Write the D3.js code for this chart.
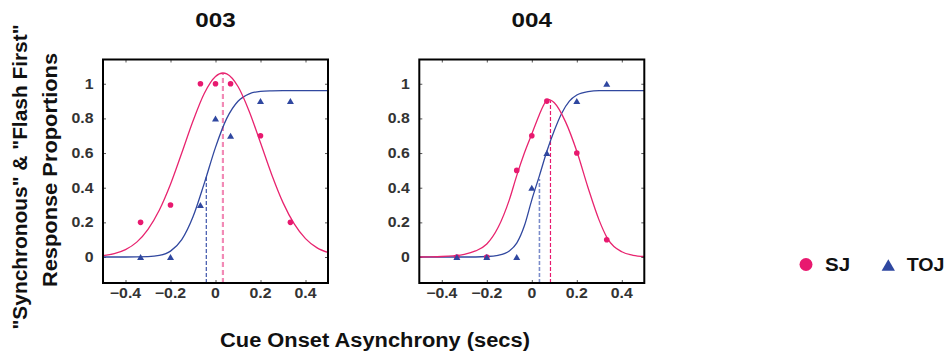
<!DOCTYPE html>
<html>
<head>
<meta charset="utf-8">
<script src="https://cdn.jsdelivr.net/npm/d3@7"></script>
<style>
  html, body { margin: 0; padding: 0; background: #fff; }
  svg { display: block; }
  text { font-family: "Liberation Sans", Arial, Helvetica, sans-serif; font-weight: bold; }
</style>
</head>
<body>
<svg id="chart" width="947" height="353"></svg>
<script>
// ---------- data ----------
const panelTitles = ["003", "004"];
const cueX = [-0.333, -0.2, -0.067, 0, 0.067, 0.2, 0.333];
const sj003 = [0.2, 0.3, 1, 1, 1, 0.7, 0.2];
const toj003 = [0, 0, 0.3, 0.8, 0.7, 0.9, 0.9];
const sj004 = [0, 0, 0.5, 0.7, 0.9, 0.6, 0.1];
const toj004 = [0, 0, 0, 0.4, 0.6, 0.9, 1.0];

// fitted curves
const fitSj003X = [-0.5, -0.45, -0.4, -0.35, -0.3, -0.25, -0.2, -0.15, -0.1, -0.05, 0, 0.033, 0.05, 0.1, 0.15, 0.2, 0.25, 0.3, 0.35, 0.4, 0.45, 0.5];
const fitSj003Y = [0.008, 0.02, 0.043, 0.086, 0.16, 0.27, 0.42, 0.60, 0.785, 0.944, 1.042, 1.062, 1.057, 0.984, 0.84, 0.659, 0.475, 0.314, 0.191, 0.106, 0.054, 0.026];
const fitToj003X = [-0.5, -0.4, -0.3, -0.25, -0.2, -0.15, -0.1, -0.05, 0, 0.05, 0.1, 0.15, 0.2, 0.25, 0.3, 0.4, 0.5];
const fitToj003Y = [0, 0, 0.002, 0.009, 0.034, 0.10, 0.232, 0.425, 0.633, 0.80, 0.899, 0.942, 0.956, 0.959, 0.96, 0.96, 0.96];
const fitSj004X = [-0.5, -0.45, -0.4, -0.35, -0.3, -0.25, -0.2, -0.15, -0.1, -0.067, -0.033, 0, 0.033, 0.05, 0.072, 0.1, 0.15, 0.2, 0.25, 0.3, 0.333, 0.4, 0.45, 0.5];
const fitSj004Y = [0, 0.001, 0.003, 0.007, 0.015, 0.035, 0.075, 0.17, 0.33, 0.47, 0.60, 0.71, 0.82, 0.87, 0.91, 0.89, 0.78, 0.61, 0.40, 0.21, 0.115, 0.03, 0.01, 0.003];
const fitToj004X = [-0.5, -0.3, -0.2, -0.15, -0.1, -0.067, -0.033, 0, 0.034, 0.067, 0.1, 0.133, 0.167, 0.2, 0.25, 0.3, 0.4, 0.5];
const fitToj004Y = [0, 0, 0.003, 0.01, 0.035, 0.08, 0.18, 0.33, 0.47, 0.61, 0.73, 0.83, 0.90, 0.935, 0.955, 0.96, 0.96, 0.96];

// point-of-subjective-simultaneity markers [SJ, TOJ]
const pseX003 = [0.033, -0.041];
const pseTop003 = [1.062, 0.463];
const pseX004 = [0.083, 0.034];
const pseTop004 = [0.905, 0.45];

const xTicks = [-0.4, -0.2, 0, 0.2, 0.4];
const yTicks = [0, 0.2, 0.4, 0.6, 0.8, 1];
const xDomain = [-0.5, 0.5];
const yDomain = [-0.15, 1.14];
const legendLabels = ["SJ", "TOJ"];
const yLabelLines = ['"Synchronous" & "Flash First"', "Response Proportions"];
const xLabel = "Cue Onset Asynchrony (secs)";

// ---------- styles ----------
const PINK = "#e8196f";
const BLUE = "#2f47a0";
const PINK_LINE = "#e8246f";
const BLUE_LINE = "#31489f";

const svg = d3.select("#chart");

function stretch(sel, f) {
  sel.each(function () {
    const w = this.getComputedTextLength();
    this.setAttribute("textLength", w * f);
    this.setAttribute("lengthAdjust", "spacingAndGlyphs");
  });
}

function triPath(cx, cy, w, h) {
  return `M${cx},${cy - h / 2}L${cx + w / 2},${cy + h / 2}L${cx - w / 2},${cy + h / 2}Z`;
}

const panels = [
  { title: panelTitles[0], left: 103, sj: sj003, toj: toj003,
    fsx: fitSj003X, fsy: fitSj003Y, ftx: fitToj003X, fty: fitToj003Y,
    pX: pseX003, pTop: pseTop003,
    dashSj: { color: "#f28ab6", width: 2.2, dash: "5,3" },
    dashToj: { color: "#2b44a3", width: 1.1, dash: "4,2" } },
  { title: panelTitles[1], left: 419.3, sj: sj004, toj: toj004,
    fsx: fitSj004X, fsy: fitSj004Y, ftx: fitToj004X, fty: fitToj004Y,
    pX: pseX004, pTop: pseTop004,
    dashSj: { color: "#e8196f", width: 1.2, dash: "4,2" },
    dashToj: { color: "#7c8dca", width: 1.6, dash: "4,2" } }
];

const W = 225, TOP = 59.5, BOTTOM = 283;

panels.forEach((p, i) => {
  const x = d3.scaleLinear().domain(xDomain).range([p.left, p.left + W]);
  const y = d3.scaleLinear().domain(yDomain).range([BOTTOM, TOP]);
  const g = svg.append("g");

  const clipId = "clip" + i;
  svg.append("clipPath").attr("id", clipId)
    .append("rect").attr("x", p.left).attr("y", TOP).attr("width", W).attr("height", BOTTOM - TOP);

  // ticks (inside, all four sides)
  const tickCol = "#555";
  const axB = d3.axisBottom(x).tickValues(xTicks).tickSizeInner(-3).tickSizeOuter(0).tickFormat("");
  const axT = d3.axisTop(x).tickValues(xTicks).tickSizeInner(-3).tickSizeOuter(0).tickFormat("");
  const axL = d3.axisLeft(y).tickValues(yTicks).tickSizeInner(-3).tickSizeOuter(0).tickFormat("");
  const axR = d3.axisRight(y).tickValues(yTicks).tickSizeInner(-3).tickSizeOuter(0).tickFormat("");
  [[axB, `translate(0,${BOTTOM})`], [axT, `translate(0,${TOP})`],
   [axL, `translate(${p.left},0)`], [axR, `translate(${p.left + W},0)`]].forEach(([ax, tr]) => {
    const a = g.append("g").attr("transform", tr).call(ax);
    a.select(".domain").remove();
    a.selectAll("line").attr("stroke", tickCol).attr("stroke-width", 1);
  });

  // tick labels
  const fmt = d3.format("");
  g.selectAll(".xl").data(xTicks).join("text")
    .attr("x", d => x(d)).attr("y", 298)
    .attr("text-anchor", "middle").attr("font-size", 14).attr("fill", "#333")
    .text(d => fmt(d)).call(stretch, 1.13);
  g.selectAll(".yl").data(yTicks).join("text")
    .attr("x", p.left - 9.5).attr("y", d => y(d)).attr("dy", "0.36em")
    .attr("text-anchor", "end").attr("font-size", 14).attr("fill", "#333")
    .text(d => fmt(d)).call(stretch, 1.13);

  // title
  g.append("text").attr("x", p.left + W / 2).attr("y", 27.3)
    .attr("text-anchor", "middle").attr("font-size", 20.5).attr("fill", "#111")
    .text(p.title).call(stretch, 1.18);

  const plot = g.append("g").attr("clip-path", `url(#${clipId})`);

  // dashed PSE lines
  plot.append("line")
    .attr("x1", x(p.pX[1])).attr("x2", x(p.pX[1]))
    .attr("y1", BOTTOM).attr("y2", y(p.pTop[1]))
    .attr("stroke", p.dashToj.color).attr("stroke-width", p.dashToj.width)
    .attr("stroke-dasharray", p.dashToj.dash);
  plot.append("line")
    .attr("x1", x(p.pX[0])).attr("x2", x(p.pX[0]))
    .attr("y1", BOTTOM).attr("y2", y(p.pTop[0]))
    .attr("stroke", p.dashSj.color).attr("stroke-width", p.dashSj.width)
    .attr("stroke-dasharray", p.dashSj.dash);

  // fitted curves
  const line = d3.line().x(d => x(d[0])).y(d => y(d[1])).curve(d3.curveMonotoneX);
  plot.append("path").datum(d3.zip(p.ftx, p.fty))
    .attr("d", line).attr("fill", "none").attr("stroke", BLUE_LINE).attr("stroke-width", 1.3);
  plot.append("path").datum(d3.zip(p.fsx, p.fsy))
    .attr("d", line).attr("fill", "none").attr("stroke", PINK_LINE).attr("stroke-width", 1.3);

  // data points
  plot.selectAll(".sj").data(d3.zip(cueX, p.sj)).join("circle")
    .attr("cx", d => x(d[0])).attr("cy", d => y(d[1])).attr("r", 2.8).attr("fill", PINK);
  plot.selectAll(".toj").data(d3.zip(cueX, p.toj)).join("path")
    .attr("d", d => triPath(x(d[0]), y(d[1]), 7, 6)).attr("fill", BLUE);

  // box
  g.append("rect").attr("x", p.left).attr("y", TOP).attr("width", W).attr("height", BOTTOM - TOP)
    .attr("fill", "none").attr("stroke", "#000").attr("stroke-width", 2);
});

// y-axis label (two lines, rotated)
svg.append("text").attr("transform", "translate(27,177) rotate(-90)")
  .attr("text-anchor", "middle").attr("font-size", 19.5).attr("fill", "#111")
  .text(yLabelLines[0]).call(stretch, 1.07);
svg.append("text").attr("transform", "translate(56.5,170) rotate(-90)")
  .attr("text-anchor", "middle").attr("font-size", 19.5).attr("fill", "#111")
  .text(yLabelLines[1]).call(stretch, 1.12);

// x-axis label
svg.append("text").attr("x", 375).attr("y", 346.5)
  .attr("text-anchor", "middle").attr("font-size", 19.5).attr("fill", "#111")
  .text(xLabel).call(stretch, 1.12);

// legend
const lg = svg.append("g");
lg.append("circle").attr("cx", 806).attr("cy", 264.5).attr("r", 6.5).attr("fill", PINK);
lg.append("text").attr("x", 825).attr("y", 270.7).attr("font-size", 17.7).attr("fill", "#111")
  .text(legendLabels[0]).call(stretch, 1.16);
lg.append("path").attr("d", triPath(888.3, 265, 13.3, 11.4)).attr("fill", BLUE);
lg.append("text").attr("x", 906.7).attr("y", 270.7).attr("font-size", 17.7).attr("fill", "#111")
  .text(legendLabels[1]).call(stretch, 1.11);
</script>
</body>
</html>
